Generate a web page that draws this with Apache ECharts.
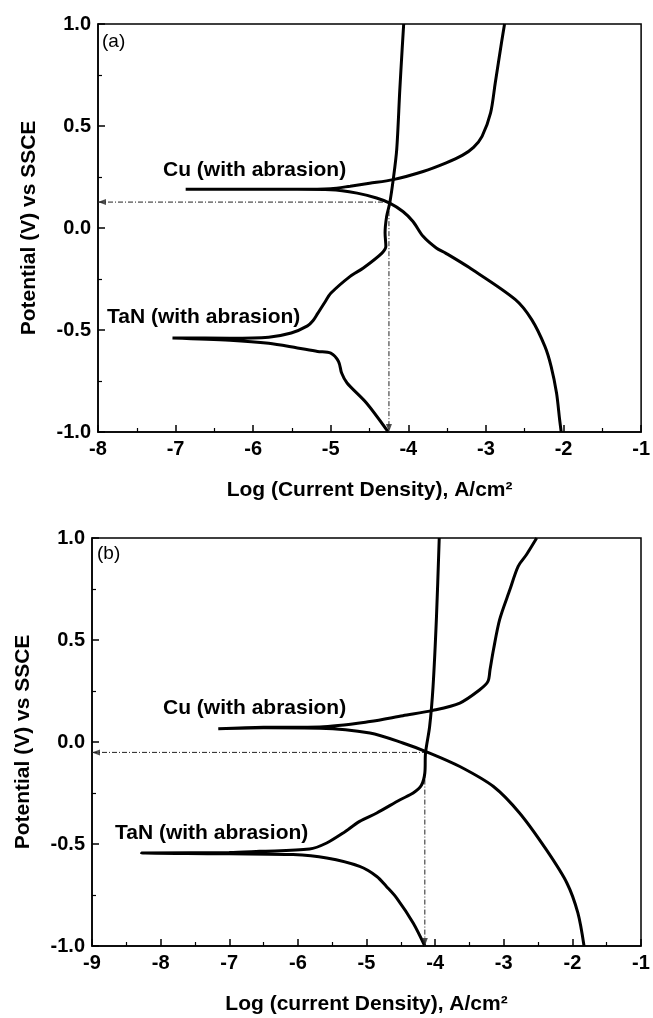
<!DOCTYPE html>
<html>
<head>
<meta charset="utf-8">
<script src="https://cdn.jsdelivr.net/npm/echarts@6/dist/echarts.min.js"></script>
<style>
html,body{margin:0;padding:0;background:#fff;}
#chart{width:653px;height:1018px;}
</style>
</head>
<body>
<div id="chart"></div>
<script>
// ---------- Panel (a) ----------
// Cu: cathodic branch (from -1.0 V up to the corrosion tip) then anodic branch
var cuA_logi = [-2.03,-2.05,-2.09,-2.16,-2.24,-2.41,-2.62,-3.22,-3.52,-3.64,-3.81,-3.94,-4.07,-4.24,-4.41,-4.66,-5.0,-5.43,-6.2,-6.87,
                -6.2,-5.43,-5.0,-4.75,-4.5,-4.195,-3.81,-3.52,-3.30,-3.16,-3.05,-2.94,-2.88,-2.80,-2.76];
var cuA_E    = [-1.0,-0.94,-0.809,-0.678,-0.58,-0.449,-0.351,-0.193,-0.123,-0.098,-0.041,0.032,0.081,0.122,0.147,0.171,0.188,0.19,0.19,0.19,
                0.19,0.19,0.193,0.205,0.219,0.237,0.277,0.318,0.357,0.395,0.449,0.564,0.711,0.907,1.0];
// TaN: cathodic branch then anodic branch
var tanA_logi = [-4.26,-4.54,-4.79,-4.86,-4.90,-5.0,-5.17,-5.43,-5.8,-6.3,-7.04,
                 -6.3,-5.8,-5.51,-5.30,-5.23,-5.17,-5.07,-5.0,-4.75,-4.58,-4.34,-4.29,-4.30,-4.28,-4.24,-4.195,-4.15,-4.11,-4.08,-4.06];
var tanA_E    = [-1.0,-0.858,-0.76,-0.711,-0.654,-0.613,-0.605,-0.588,-0.565,-0.55,-0.539,
                 -0.54,-0.535,-0.515,-0.48,-0.455,-0.42,-0.36,-0.32,-0.237,-0.196,-0.123,-0.09,-0.025,0.057,0.122,0.237,0.384,0.678,0.876,1.0];
// corrosion point guide (a)
var guideA_logi = [-8, -4.25, -4.25];
var guideA_E    = [0.127, 0.127, -1.0];

// ---------- Panel (b) ----------
var cuB_logi = [-1.83,-1.92,-2.08,-2.38,-2.77,-3.15,-3.64,-4.08,-4.47,-4.95,-5.68,-6.5,-7.16,
                -6.5,-5.68,-4.95,-4.47,-4.03,-3.64,-3.35,-3.23,-3.20,-3.15,-3.06,-2.91,-2.79,-2.67,-2.52];
var cuB_E    = [-1.0,-0.838,-0.691,-0.528,-0.348,-0.218,-0.12,-0.054,-0.005,0.044,0.068,0.07,0.065,
                0.072,0.074,0.10,0.129,0.155,0.191,0.256,0.297,0.354,0.452,0.60,0.747,0.861,0.918,1.0];
var tanB_logi = [-4.15,-4.32,-4.56,-4.71,-4.85,-5.10,-5.58,-6.07,-7.0,-8.28,
                 -7.0,-6.56,-5.83,-5.58,-5.34,-5.10,-4.85,-4.51,-4.32,-4.20,-4.15,-4.14,-4.08,-4.03,-3.98,-3.94];
var tanB_E    = [-1.0,-0.887,-0.765,-0.708,-0.659,-0.61,-0.569,-0.552,-0.548,-0.544,
                 -0.542,-0.536,-0.525,-0.495,-0.446,-0.389,-0.348,-0.283,-0.25,-0.212,-0.152,-0.054,0.076,0.273,0.616,1.0];
var guideB_logi = [-9, -4.15, -4.15];
var guideB_E    = [-0.051, -0.051, -1.0];

// axis settings
var xTicksA = {min: -8, max: -1, step: 1};
var xTicksB = {min: -9, max: -1, step: 1};
var yTicks  = {min: -1, max: 1, step: 0.5};
var xTitleA = 'Log (Current Density), A/cm\u00B2';
var xTitleB = 'Log (current Density), A/cm\u00B2';
var yTitle  = 'Potential (V) vs SSCE';
var curveLabels = ['Cu (with abrasion)', 'TaN (with abrasion)'];
var panelLabels = ['(a)', '(b)'];

function pairs(xs, ys){ return xs.map(function(x,i){ return [x, ys[i]]; }); }

var FONT = "'Liberation Sans', Arial, sans-serif";
var BLACK = '#000';

function makeX(grid, t, title){
  return {
    type:'value', gridIndex:grid, min:t.min, max:t.max, interval:t.step,
    axisLine:{show:true, onZero:false, lineStyle:{color:BLACK, width:1.5}},
    axisTick:{show:true, inside:true, length:7, lineStyle:{color:BLACK, width:1.5}},
    minorTick:{show:true, splitNumber:2, length:4, lineStyle:{color:BLACK, width:1.2}},
    splitLine:{show:false},
    axisLabel:{color:BLACK, fontSize:20, fontWeight:'bold', fontFamily:FONT, margin:7,
               formatter:function(v){ return String(v); }},
    name:title, nameLocation:'middle', nameGap:48,
    nameTextStyle:{color:BLACK, fontSize:21, fontWeight:'bold', fontFamily:FONT}
  };
}
function makeY(grid){
  return {
    type:'value', gridIndex:grid, min:yTicks.min, max:yTicks.max, interval:yTicks.step,
    axisLine:{show:true, onZero:false, lineStyle:{color:BLACK, width:1.5}},
    axisTick:{show:true, inside:true, length:7, lineStyle:{color:BLACK, width:1.5}},
    minorTick:{show:true, splitNumber:2, length:4, lineStyle:{color:BLACK, width:1.2}},
    splitLine:{show:false},
    axisLabel:{color:BLACK, fontSize:20, fontWeight:'bold', fontFamily:FONT, margin:7,
               formatter:function(v){ return v.toFixed(1); }},
    name:yTitle, nameLocation:'middle', nameGap:58,
    nameTextStyle:{color:BLACK, fontSize:21, fontWeight:'bold', fontFamily:FONT}
  };
}
function curve(name, xs, ys, g){
  return {name:name, type:'line', xAxisIndex:g, yAxisIndex:g, data:pairs(xs, ys),
          showSymbol:false, symbol:'none', smooth:0.3, clip:true, silent:true,
          lineStyle:{color:BLACK, width:3}, z:3};
}
function guide(xs, ys, g){
  return {type:'line', xAxisIndex:g, yAxisIndex:g, data:pairs(xs, ys),
          symbol:'none', silent:true, smooth:false,
          lineStyle:{color:'#222', width:1, type:[5,2,1,2]}, z:2};
}
function arrows(xs, ys, g){
  // arrow heads at the two guide ends (first point: left, last point: down)
  return {type:'scatter', xAxisIndex:g, yAxisIndex:g, silent:true, z:4,
          data:[
            {value:[xs[0], ys[0]], symbolRotate:90, symbolOffset:[4,0]},
            {value:[xs[xs.length-1], ys[ys.length-1]], symbolRotate:180, symbolOffset:[0,-4]}
          ],
          symbol:'triangle', symbolSize:[6,8], itemStyle:{color:'#222'}};
}
function txt(text, x, y, bold, size){
  return {type:'text', x:x, y:y, z:10,
          style:{text:text, fill:BLACK, font:(bold?'bold ':'')+size+'px '+FONT,
                 textAlign:'left', textVerticalAlign:'middle', align:'left', verticalAlign:'middle'}};
}

var chart = echarts.init(document.getElementById('chart'), null, {renderer:'canvas'});
chart.setOption({
  backgroundColor:'#fff',
  animation:false,
  grid:[
    {left:98, top:24, width:548, height:408, show:true, borderColor:BLACK, borderWidth:1.5, backgroundColor:'transparent'},
    {left:92, top:538, width:549, height:408, show:true, borderColor:BLACK, borderWidth:1.5, backgroundColor:'transparent'}
  ],
  xAxis:[ makeX(0, xTicksA, xTitleA), makeX(1, xTicksB, xTitleB) ],
  yAxis:[ makeY(0), makeY(1) ],
  series:[
    curve('Cu (a)', cuA_logi, cuA_E, 0),
    curve('TaN (a)', tanA_logi, tanA_E, 0),
    guide(guideA_logi, guideA_E, 0),
    arrows(guideA_logi, guideA_E, 0),
    curve('Cu (b)', cuB_logi, cuB_E, 1),
    curve('TaN (b)', tanB_logi, tanB_E, 1),
    guide(guideB_logi, guideB_E, 1),
    arrows(guideB_logi, guideB_E, 1)
  ],
  graphic:[
    txt(panelLabels[0], 102, 42, false, 19),
    txt(panelLabels[1], 97, 554, false, 19),
    txt(curveLabels[0], 163, 170, true, 21),
    txt(curveLabels[1], 107, 317, true, 21),
    txt(curveLabels[0], 163, 708, true, 21),
    txt(curveLabels[1], 115, 833, true, 21)
  ]
});
</script>
</body>
</html>
